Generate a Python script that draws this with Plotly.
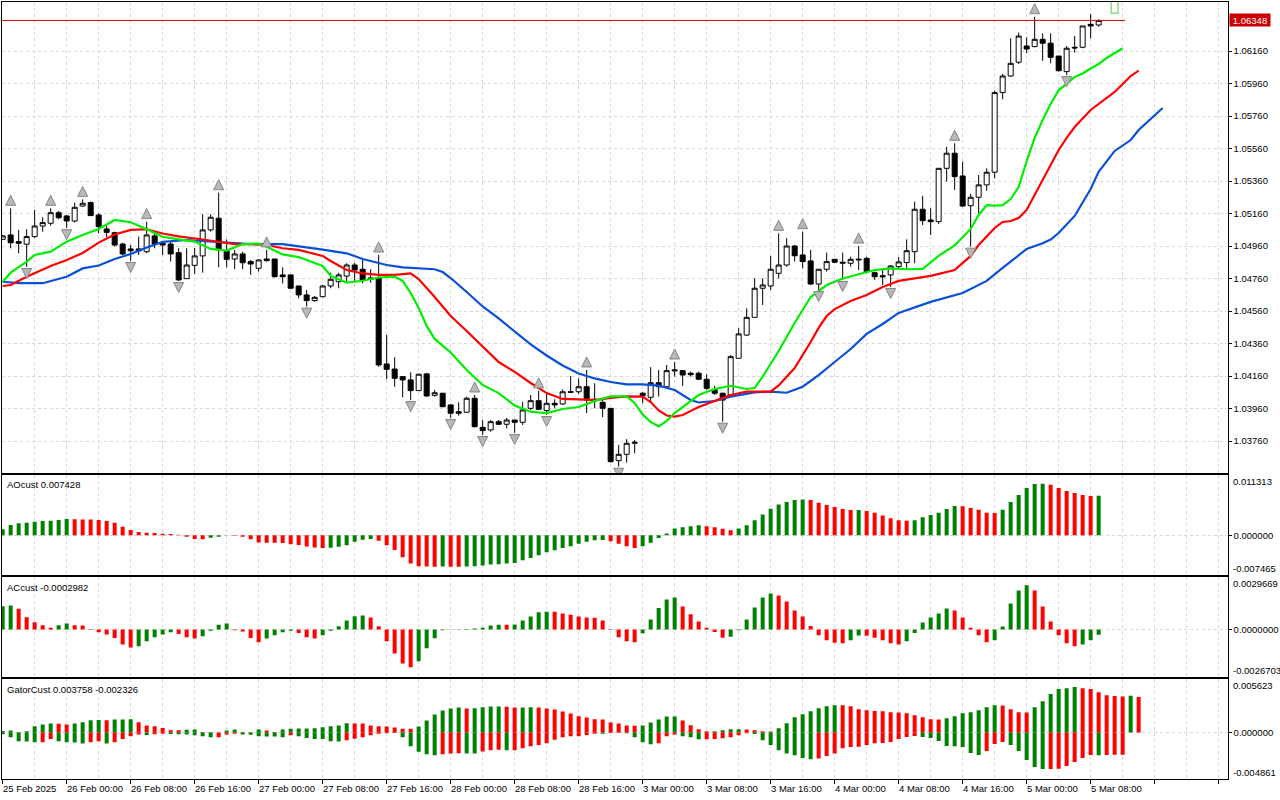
import plotly.graph_objects as go
from plotly.subplots import make_subplots

# ---------------- data (EURUSD H1) ----------------
time_tick_idx = [0, 8, 16, 24, 32, 40, 48, 56, 64, 72, 80, 88, 96, 104, 112, 120, 128, 136]
time_tick_text = ["25 Feb 2025", "26 Feb 00:00", "26 Feb 08:00", "26 Feb 16:00", "27 Feb 00:00",
                  "27 Feb 08:00", "27 Feb 16:00", "28 Feb 00:00", "28 Feb 08:00", "28 Feb 16:00",
                  "3 Mar 00:00", "3 Mar 08:00", "3 Mar 16:00", "4 Mar 00:00", "4 Mar 08:00",
                  "4 Mar 16:00", "5 Mar 00:00", "5 Mar 08:00"]

price_ticks = [1.03760, 1.03960, 1.04160, 1.04360, 1.04560, 1.04760, 1.04960,
               1.05160, 1.05360, 1.05560, 1.05760, 1.05960, 1.06160]

open_ = [1.05001, 1.05028, 1.04987, 1.04971, 1.05018, 1.05083, 1.05100, 1.05165, 1.05145, 1.05114,
         1.05206, 1.05227, 1.05151, 1.05065, 1.05042, 1.04972, 1.04942, 1.04942, 1.04925, 1.05022,
         1.04977, 1.04972, 1.04919, 1.04759, 1.04841, 1.04899, 1.05059, 1.05131, 1.04929, 1.04880,
         1.04911, 1.04864, 1.04823, 1.04880, 1.04880, 1.04782, 1.04782, 1.04714, 1.04659, 1.04624,
         1.04648, 1.04714, 1.04740, 1.04775, 1.04843, 1.04817, 1.04763, 1.04763, 1.04234, 1.04203,
         1.04156, 1.04136, 1.04070, 1.04173, 1.04041, 1.04054, 1.03982, 1.03940, 1.03937, 1.04023,
         1.03844, 1.03828, 1.03879, 1.03863, 1.03889, 1.03875, 1.03961, 1.04008, 1.03947, 1.03992,
         1.03988, 1.04063, 1.04063, 1.04094, 1.04017, 1.03998, 1.03961, 1.03639, 1.03678, 1.03746,
         1.04054, 1.04029, 1.04119, 1.04094, 1.04191, 1.04193, 1.04177, 1.04177, 1.04140, 1.04078,
         1.04054, 1.04043, 1.04269, 1.04412, 1.04521, 1.04700, 1.04714, 1.04792, 1.04843, 1.04960,
         1.04905, 1.04868, 1.04726, 1.04817, 1.04878, 1.04860, 1.04854, 1.04874, 1.04884, 1.04796,
         1.04777, 1.04782, 1.04833, 1.04858, 1.04925, 1.05186, 1.05120, 1.05110, 1.05438, 1.05531,
         1.05391, 1.05208, 1.05260, 1.05336, 1.05414, 1.05904, 1.06006, 1.06091, 1.06191, 1.06187,
         1.06232, 1.06208, 1.06129, 1.06033, 1.06183, 1.06183, 1.06324, 1.06320]

high = [1.05028, 1.05192, 1.05059, 1.05063, 1.05182, 1.05137, 1.05192, 1.05176, 1.05150, 1.05227,
        1.05247, 1.05233, 1.05161, 1.05083, 1.05048, 1.04980, 1.04966, 1.05018, 1.05110, 1.05038,
        1.04991, 1.04987, 1.04946, 1.04946, 1.04948, 1.05155, 1.05155, 1.05288, 1.05001, 1.04936,
        1.04925, 1.04874, 1.04878, 1.04936, 1.04880, 1.04829, 1.04782, 1.04714, 1.04689, 1.04652,
        1.04720, 1.04796, 1.04796, 1.04854, 1.04856, 1.04884, 1.04817, 1.04905, 1.04413, 1.04275,
        1.04160, 1.04183, 1.04173, 1.04179, 1.04074, 1.04055, 1.03986, 1.03998, 1.04033, 1.04043,
        1.03889, 1.03889, 1.03889, 1.03902, 1.03889, 1.04002, 1.04043, 1.04068, 1.04055, 1.04017,
        1.04078, 1.04160, 1.04146, 1.04197, 1.04115, 1.04023, 1.03963, 1.03736, 1.03771, 1.03766,
        1.04063, 1.04214, 1.04197, 1.04228, 1.04246, 1.04197, 1.04187, 1.04187, 1.04171, 1.04099,
        1.04057, 1.04289, 1.04454, 1.04577, 1.04761, 1.04761, 1.04899, 1.05038, 1.05008, 1.04966,
        1.05048, 1.04936, 1.04817, 1.04919, 1.04880, 1.04919, 1.04894, 1.04960, 1.04894, 1.04802,
        1.04817, 1.04843, 1.04892, 1.05001, 1.05233, 1.05268, 1.05192, 1.05438, 1.05571, 1.05592,
        1.05479, 1.05280, 1.05397, 1.05438, 1.05916, 1.06019, 1.06238, 1.06273, 1.06244, 1.06371,
        1.06269, 1.06269, 1.06129, 1.06191, 1.06252, 1.06314, 1.06388, 1.06355]

low = [1.04997, 1.04946, 1.04915, 1.04831, 1.05008, 1.05048, 1.05085, 1.05124, 1.05070, 1.05104,
       1.05202, 1.05145, 1.05038, 1.05014, 1.04956, 1.04905, 1.04868, 1.04905, 1.04915, 1.04946,
       1.04905, 1.04864, 1.04745, 1.04759, 1.04788, 1.04796, 1.05048, 1.04829, 1.04829, 1.04817,
       1.04817, 1.04782, 1.04802, 1.04864, 1.04767, 1.04730, 1.04694, 1.04638, 1.04587, 1.04617,
       1.04644, 1.04700, 1.04700, 1.04734, 1.04740, 1.04730, 1.04734, 1.04216, 1.04140, 1.04094,
       1.04029, 1.04012, 1.04068, 1.04033, 1.04033, 1.03968, 1.03902, 1.03916, 1.03934, 1.03844,
       1.03797, 1.03817, 1.03859, 1.03838, 1.03810, 1.03859, 1.03951, 1.03951, 1.03920, 1.03961,
       1.03982, 1.04054, 1.04049, 1.03931, 1.03961, 1.03906, 1.03627, 1.03602, 1.03627, 1.03684,
       1.03992, 1.04002, 1.04033, 1.04084, 1.04156, 1.04099, 1.04156, 1.04136, 1.04074, 1.04043,
       1.03879, 1.04040, 1.04269, 1.04406, 1.04521, 1.04597, 1.04689, 1.04761, 1.04833, 1.04864,
       1.04823, 1.04720, 1.04689, 1.04802, 1.04854, 1.04751, 1.04833, 1.04812, 1.04792, 1.04751,
       1.04720, 1.04708, 1.04823, 1.04817, 1.04854, 1.05089, 1.05028, 1.05095, 1.05356, 1.05305,
       1.05202, 1.04956, 1.05145, 1.05300, 1.05377, 1.05863, 1.06002, 1.06080, 1.06146, 1.06183,
       1.06100, 1.06084, 1.06033, 1.06012, 1.06150, 1.06177, 1.06238, 1.06310]

close = [1.05022, 1.04980, 1.04977, 1.05018, 1.05083, 1.05104, 1.05165, 1.05134, 1.05114, 1.05198,
         1.05223, 1.05147, 1.05079, 1.05044, 1.04966, 1.04911, 1.04931, 1.04930, 1.05028, 1.04972,
         1.04966, 1.04911, 1.04751, 1.04843, 1.04899, 1.05059, 1.05137, 1.04936, 1.04878, 1.04911,
         1.04857, 1.04849, 1.04874, 1.04870, 1.04771, 1.04771, 1.04700, 1.04659, 1.04624, 1.04644,
         1.04714, 1.04755, 1.04782, 1.04843, 1.04812, 1.04747, 1.04755, 1.04228, 1.04201, 1.04146,
         1.04136, 1.04070, 1.04171, 1.04037, 1.04057, 1.03971, 1.03931, 1.03931, 1.04023, 1.03848,
         1.03824, 1.03879, 1.03863, 1.03889, 1.03875, 1.03951, 1.04008, 1.03955, 1.03992, 1.03982,
         1.04063, 1.04060, 1.04094, 1.04012, 1.04008, 1.03961, 1.03633, 1.03678, 1.03746, 1.03752,
         1.04039, 1.04119, 1.04094, 1.04193, 1.04197, 1.04166, 1.04168, 1.04140, 1.04084, 1.04054,
         1.04012, 1.04279, 1.04419, 1.04521, 1.04700, 1.04720, 1.04817, 1.04843, 1.04960, 1.04900,
         1.04864, 1.04726, 1.04817, 1.04864, 1.04860, 1.04855, 1.04878, 1.04878, 1.04802, 1.04771,
         1.04771, 1.04837, 1.04862, 1.04931, 1.05186, 1.05116, 1.05110, 1.05438, 1.05531, 1.05387,
         1.05206, 1.05260, 1.05336, 1.05414, 1.05904, 1.06006, 1.06084, 1.06252, 1.06172, 1.06232,
         1.06208, 1.06121, 1.06039, 1.06177, 1.06179, 1.06314, 1.06314, 1.06348]

# Alligator lines (bar index, price)
jaw_idx = [0, 2, 5, 8, 10, 12, 14, 16, 18, 20, 23, 26, 29, 31, 35, 37, 40, 43, 45, 46, 48, 50, 54, 55,
           56, 58, 60, 62, 64, 66, 68, 70, 72, 74, 76, 78, 80, 82, 84, 86, 87, 89, 91, 94, 96, 98, 100,
           102, 104, 106, 108, 110, 112, 116, 120, 123, 125, 127, 128, 130, 131, 132, 134, 136, 137,
           139, 141, 142, 145]
jaw_val = [1.04740, 1.04731, 1.04731, 1.04771, 1.04822, 1.04840, 1.04880, 1.04911, 1.04951, 1.04985,
           1.04997, 1.04988, 1.04977, 1.04972, 1.04972, 1.04960, 1.04938, 1.04915, 1.04880, 1.04868,
           1.04843, 1.04829, 1.04817, 1.04800, 1.04763, 1.04677, 1.04588, 1.04514, 1.04431, 1.04354,
           1.04286, 1.04225, 1.04175, 1.04145, 1.04123, 1.04109, 1.04108, 1.04101, 1.04074, 1.04012,
           1.03997, 1.04006, 1.04033, 1.04059, 1.04064, 1.04057, 1.04094, 1.04166, 1.04246, 1.04326,
           1.04419, 1.04480, 1.04548, 1.04616, 1.04671, 1.04745, 1.04825, 1.04905, 1.04942, 1.04977,
           1.05000, 1.05040, 1.05145, 1.05311, 1.05416, 1.05545, 1.05612, 1.05674, 1.05809]

teeth_idx = [0, 1, 3, 6, 8, 10, 12, 14, 16, 18, 20, 22, 25, 27, 29, 31, 33, 35, 37, 40, 41, 43, 45,
             47, 49, 51, 52, 54, 56, 58, 60, 62, 64, 66, 68, 70, 73, 74, 76, 78, 80, 81, 82, 83, 84,
             85, 87, 89, 91, 93, 96, 97, 99, 101, 102, 103, 104, 106, 108, 110, 112, 116, 119, 121,
             122, 124, 125, 126, 127, 128, 130, 132, 133, 134, 136, 138, 139, 141, 142]
teeth_val = [1.04714, 1.04720, 1.04771, 1.04837, 1.04874, 1.04917, 1.04981, 1.05031, 1.05059, 1.05063,
             1.05037, 1.05019, 1.05000, 1.04987, 1.04972, 1.04972, 1.04966, 1.04946, 1.04936, 1.04899,
             1.04868, 1.04812, 1.04791, 1.04782, 1.04782, 1.04791, 1.04757, 1.04646, 1.04529, 1.04437,
             1.04339, 1.04246, 1.04185, 1.04117, 1.04055, 1.04019, 1.04015, 1.04012, 1.04025, 1.04035,
             1.04033, 1.04000, 1.03948, 1.03917, 1.03910, 1.03920, 1.03969, 1.04006, 1.04043, 1.04064,
             1.04064, 1.04102, 1.04209, 1.04369, 1.04456, 1.04529, 1.04572, 1.04622, 1.04659, 1.04708,
             1.04745, 1.04776, 1.04812, 1.04899, 1.04966, 1.05071, 1.05108, 1.05114, 1.05132, 1.05182,
             1.05366, 1.05551, 1.05625, 1.05692, 1.05797, 1.05871, 1.05908, 1.06006, 1.06039]

lips_idx = [0, 1, 3, 4, 6, 8, 10, 12, 14, 16, 18, 20, 22, 24, 26, 28, 30, 32, 33, 35, 37, 40, 41, 43,
            45, 47, 49, 50, 51, 52, 53, 54, 56, 58, 60, 62, 64, 66, 68, 70, 72, 74, 76, 78, 79, 80,
            81, 82, 83, 84, 85, 87, 89, 91, 93, 94, 95, 96, 97, 98, 99, 101, 103, 105, 107, 109, 111,
            113, 115, 117, 119, 121, 122, 123, 124, 125, 126, 127, 128, 129, 130, 131, 132, 133, 134,
            135, 136, 137, 138, 140]
lips_val = [1.04740, 1.04796, 1.04864, 1.04905, 1.04925, 1.04987, 1.05028, 1.05065, 1.05120, 1.05106,
            1.05063, 1.05017, 1.05001, 1.04987, 1.04942, 1.04932, 1.04972, 1.04975, 1.04956, 1.04908,
            1.04892, 1.04837, 1.04776, 1.04735, 1.04746, 1.04766, 1.04772, 1.04745, 1.04671, 1.04578,
            1.04468, 1.04388, 1.04305, 1.04197, 1.04105, 1.04055, 1.03978, 1.03940, 1.03932, 1.03957,
            1.03969, 1.04006, 1.04034, 1.04034, 1.03994, 1.03923, 1.03877, 1.03849, 1.03883, 1.03932,
            1.03969, 1.04043, 1.04080, 1.04100, 1.04080, 1.04086, 1.04156, 1.04234, 1.04314, 1.04400,
            1.04486, 1.04646, 1.04720, 1.04760, 1.04785, 1.04812, 1.04822, 1.04817, 1.04819, 1.04899,
            1.04963, 1.05065, 1.05151, 1.05212, 1.05209, 1.05212, 1.05249, 1.05323, 1.05483, 1.05625,
            1.05736, 1.05834, 1.05920, 1.05957, 1.06000, 1.06022, 1.06052, 1.06080, 1.06117, 1.06177]

fractal_up_idx = [1, 6, 10, 18, 27, 33, 47, 59, 67, 73, 84, 97, 100, 107, 119, 129]
fractal_down_idx = [3, 8, 16, 22, 38, 51, 56, 60, 64, 68, 77, 90, 102, 105, 111, 121, 133]

ao_values = [0.00111, 0.00193, 0.00224, 0.00237, 0.00256, 0.00269, 0.00275, 0.00288, 0.00307, 0.00300,
             0.00297, 0.00294, 0.00288, 0.00269, 0.00237, 0.00161, 0.00098, 0.00060, 0.00047, 0.00041,
             0.00028, 0.00022, 0.00009, -0.00028, -0.00073, -0.00076, -0.00047, -0.00028, -0.00005, -0.00012,
             -0.00028, -0.00079, -0.00138, -0.00141, -0.00143, -0.00146, -0.00172, -0.00186, -0.00216, -0.00235,
             -0.00240, -0.00236, -0.00218, -0.00190, -0.00126, -0.00085, -0.00072, -0.00105, -0.00188, -0.00278,
             -0.00417, -0.00537, -0.00588, -0.00592, -0.00596, -0.00590, -0.00594, -0.00598, -0.00590, -0.00585,
             -0.00575, -0.00556, -0.00550, -0.00537, -0.00525, -0.00474, -0.00430, -0.00379, -0.00322, -0.00284,
             -0.00240, -0.00209, -0.00164, -0.00126, -0.00095, -0.00093, -0.00114, -0.00164, -0.00209, -0.00240,
             -0.00209, -0.00145, -0.00051, 0.00032, 0.00126, 0.00152, 0.00171, 0.00190, 0.00171, 0.00152,
             0.00120, 0.00095, 0.00126, 0.00190, 0.00284, 0.00392, 0.00499, 0.00581, 0.00626, 0.00664,
             0.00676, 0.00664, 0.00613, 0.00569, 0.00531, 0.00493, 0.00474, 0.00476, 0.00455, 0.00423,
             0.00373, 0.00322, 0.00284, 0.00272, 0.00284, 0.00341, 0.00379, 0.00423, 0.00493, 0.00550,
             0.00548, 0.00512, 0.00480, 0.00423, 0.00420, 0.00480, 0.00626, 0.00759, 0.00891, 0.00967,
             0.00970, 0.00951, 0.00891, 0.00834, 0.00796, 0.00760, 0.00738, 0.007428]

ac_values = [0.00133, 0.00137, 0.00118, 0.00070, 0.00042, 0.00025, 0.00011, 0.00025, 0.00034, 0.00025,
             0.00023, 0.00004, -0.00015, -0.00028, -0.00047, -0.00085, -0.00101, -0.00095, -0.00066, -0.00044,
             -0.00028, -0.00015, -0.00025, -0.00044, -0.00051, -0.00038, -0.00006, 0.00028, 0.00034, -0.00004,
             -0.00010, -0.00047, -0.00072, -0.00051, -0.00032, -0.00015, -0.00006, -0.00019, -0.00044, -0.00051,
             -0.00032, -0.00006, 0.00019, 0.00051, 0.00076, 0.00080, 0.00068, 0.00019, -0.00066, -0.00135,
             -0.00192, -0.00214, -0.00180, -0.00106, -0.00049, -0.00004, 0.00002, -0.00001, 0.00003, 0.00006,
             0.00011, 0.00023, 0.00028, 0.00027, 0.00029, 0.00051, 0.00074, 0.00099, 0.00102, 0.00101,
             0.00091, 0.00085, 0.00074, 0.00068, 0.00067, 0.00051, 0.00004, -0.00044, -0.00066, -0.00072,
             -0.00021, 0.00057, 0.00123, 0.00171, 0.00182, 0.00131, 0.00087, 0.00046, 0.00011, -0.00013,
             -0.00046, -0.00040, -0.00004, 0.00057, 0.00125, 0.00182, 0.00205, 0.00194, 0.00159, 0.00108,
             0.00074, 0.00021, -0.00032, -0.00061, -0.00074, -0.00078, -0.00061, -0.00034, -0.00035, -0.00046,
             -0.00061, -0.00078, -0.00084, -0.00066, -0.00019, 0.00040, 0.00068, 0.00091, 0.00120, 0.00108,
             0.00068, 0.00011, -0.00032, -0.00072, -0.00061, 0.00017, 0.00148, 0.00222, 0.00251, 0.00222,
             0.00131, 0.00046, -0.00032, -0.00078, -0.00095, -0.00084, -0.00061, -0.0002982]

gator_upper = [0.00018, 0.00022, 0.00004, 0.00014, 0.00067, 0.00085, 0.00095, 0.00094, 0.00085, 0.00095,
               0.00109, 0.00131, 0.00132, 0.00130, 0.00138, 0.00139, 0.00140, 0.00109, 0.00074, 0.00067,
               0.00049, 0.00025, 0.00024, 0.00030, 0.00032, 0.00007, 0.00004, 0.00002, 0.00021, 0.00032,
               0.00007, 0.00004, 0.00032, 0.00021, 0.00007, 0.00032, 0.00042, 0.00043, 0.00044, 0.00045,
               0.00056, 0.00067, 0.00074, 0.00099, 0.00097, 0.00095, 0.00074, 0.00067, 0.00064, 0.00053,
               0.00042, 0.00041, 0.00064, 0.00127, 0.00191, 0.00233, 0.00254, 0.00265, 0.00254, 0.00256,
               0.00268, 0.00275, 0.00276, 0.00274, 0.00265, 0.00266, 0.00267, 0.00264, 0.00254, 0.00244,
               0.00222, 0.00201, 0.00173, 0.00159, 0.00141, 0.00138, 0.00106, 0.00095, 0.00074, 0.00073,
               0.00075, 0.00106, 0.00138, 0.00169, 0.00170, 0.00127, 0.00078, 0.00035, 0.00014, 0.00015,
               0.00025, 0.00035, 0.00036, 0.00034, 0.00025, 0.00014, 0.00012, 0.00046, 0.00099, 0.00162,
               0.00194, 0.00226, 0.00258, 0.00279, 0.00289, 0.00288, 0.00279, 0.00247, 0.00237, 0.00229,
               0.00226, 0.00215, 0.00213, 0.00205, 0.00184, 0.00162, 0.00141, 0.00139, 0.00152, 0.00173,
               0.00205, 0.00215, 0.00237, 0.00268, 0.00289, 0.00287, 0.00247, 0.00215, 0.00213, 0.00268,
               0.00332, 0.00406, 0.00459, 0.00469, 0.00480, 0.00469, 0.00459, 0.00427, 0.00395, 0.00385,
               0.00380, 0.00390, 0.003758]

gator_lower = [-0.00018, -0.00049, -0.00092, -0.00093, -0.00102, -0.00101, -0.00067, -0.00092, -0.00102, -0.00103,
               -0.00116, -0.00102, -0.00092, -0.00116, -0.00102, -0.00067, -0.00039, -0.00021, -0.00025, -0.00018,
               -0.00012, -0.00015, -0.00018, -0.00021, -0.00028, -0.00039, -0.00049, -0.00048, -0.00021, -0.00011,
               -0.00021, -0.00022, -0.00039, -0.00040, -0.00041, -0.00049, -0.00028, -0.00039, -0.00056, -0.00067,
               -0.00068, -0.00092, -0.00093, -0.00081, -0.00064, -0.00049, -0.00028, -0.00011, -0.00006, -0.00004,
               -0.00049, -0.00145, -0.00201, -0.00229, -0.00240, -0.00229, -0.00219, -0.00217, -0.00219, -0.00221,
               -0.00198, -0.00187, -0.00180, -0.00187, -0.00186, -0.00166, -0.00145, -0.00131, -0.00113, -0.00074,
               -0.00049, -0.00039, -0.00038, -0.00025, -0.00011, -0.00012, -0.00004, -0.00002, -0.00007, -0.00049,
               -0.00102, -0.00124, -0.00113, -0.00039, -0.00021, -0.00039, -0.00049, -0.00071, -0.00069, -0.00068,
               -0.00060, -0.00049, -0.00028, -0.00007, -0.00014, -0.00081, -0.00131, -0.00187, -0.00219, -0.00240,
               -0.00268, -0.00282, -0.00272, -0.00247, -0.00219, -0.00166, -0.00152, -0.00150, -0.00131, -0.00113,
               -0.00110, -0.00099, -0.00067, -0.00046, -0.00035, -0.00046, -0.00056, -0.00088, -0.00141, -0.00143,
               -0.00152, -0.00215, -0.00237, -0.00194, -0.00120, -0.00099, -0.00131, -0.00194, -0.00289, -0.00364,
               -0.00385, -0.00383, -0.00381, -0.00353, -0.00311, -0.00268, -0.00237, -0.00240, -0.00236, -0.00234,
               -0.002326]

ao_range = [-0.007465, 0.011313]
ac_range = [-0.0026703, 0.0029669]
gator_range = [-0.004861, 0.005623]
price_range = [1.035612, 1.064634]
bid_price = close[-1]
pending_box_idx = [139]
pending_box_low = [1.06392]
pending_box_high = [1.06500]

# ---------------- style ----------------
FONT = "Liberation Sans, Arial, sans-serif"
FS = 9.5
GRID = "#d8d8d8"
DASH = "3px,3px"
GREEN_H = "#008000"
RED_H = "#ff0000"
X_RANGE = [-0.084, 153.13]
X_DOM = [2 / 1280, 1227.7 / 1280]
DOMS = [[1 - 473.3 / 800, 1 - 1.7 / 800],
        [1 - 574.7 / 800, 1 - 475.3 / 800],
        [1 - 676.7 / 800, 1 - 577.3 / 800],
        [1 - 778.7 / 800, 1 - 679.3 / 800]]


def rising_colors(vals, grow_down=False):
    out = []
    for i, v in enumerate(vals):
        if i == 0:
            out.append(GREEN_H)
            continue
        up = v < vals[i - 1] if grow_down else v > vals[i - 1]
        out.append(GREEN_H if up else RED_H)
    return out


fig = make_subplots(rows=4, cols=1, shared_xaxes=True)

bar_idx = list(range(len(close)))

fig.add_trace(go.Candlestick(
    x=bar_idx, open=open_, high=high, low=low, close=close,
    increasing=dict(line=dict(color="black", width=1), fillcolor="white"),
    decreasing=dict(line=dict(color="black", width=1), fillcolor="black"),
    whiskerwidth=0, hoverinfo="skip", showlegend=False), row=1, col=1)

# alligator
fig.add_trace(go.Scatter(x=jaw_idx, y=jaw_val, mode="lines",
                         line=dict(color="#0a4fd8", width=2.2), hoverinfo="skip"), row=1, col=1)
fig.add_trace(go.Scatter(x=teeth_idx, y=teeth_val, mode="lines",
                         line=dict(color="#ff0000", width=2.2), hoverinfo="skip"), row=1, col=1)
fig.add_trace(go.Scatter(x=lips_idx, y=lips_val, mode="lines",
                         line=dict(color="#00ee00", width=2.2), hoverinfo="skip"), row=1, col=1)

# bid line
fig.add_trace(go.Scatter(x=[X_RANGE[0], 140.3], y=[bid_price, bid_price], mode="lines",
                         line=dict(color="#e00000", width=1), hoverinfo="skip"), row=1, col=1)

# fractals
UP_GAP = 0.00080
DN_GAP = 0.00071
fig.add_trace(go.Scatter(
    x=fractal_up_idx, y=[high[i] + UP_GAP for i in fractal_up_idx], mode="markers",
    marker=dict(symbol="arrow-up", size=10, color="#b8b8b8", line=dict(color="#858585", width=1)),
    hoverinfo="skip"), row=1, col=1)
fig.add_trace(go.Scatter(
    x=fractal_down_idx, y=[low[i] - DN_GAP for i in fractal_down_idx], mode="markers",
    marker=dict(symbol="arrow-down", size=10, color="#b8b8b8", line=dict(color="#858585", width=1)),
    hoverinfo="skip"), row=1, col=1)

# pending (forming) bar outline
fig.add_trace(go.Bar(x=pending_box_idx,
                     y=[h - l for h, l in zip(pending_box_high, pending_box_low)],
                     base=pending_box_low, width=0.85,
                     marker=dict(color="white", line=dict(color="#86e08a", width=1.5)),
                     hoverinfo="skip"), row=1, col=1)

# AO
fig.add_trace(go.Bar(x=list(range(len(ao_values))), y=ao_values, width=0.5,
                     marker=dict(color=rising_colors(ao_values), line=dict(width=0)),
                     hoverinfo="skip"), row=2, col=1)
# AC
fig.add_trace(go.Bar(x=list(range(len(ac_values))), y=ac_values, width=0.5,
                     marker=dict(color=rising_colors(ac_values), line=dict(width=0)),
                     hoverinfo="skip"), row=3, col=1)
# Gator
fig.add_trace(go.Bar(x=list(range(len(gator_upper))), y=gator_upper, width=0.5,
                     marker=dict(color=rising_colors(gator_upper), line=dict(width=0)),
                     hoverinfo="skip"), row=4, col=1)
fig.add_trace(go.Bar(x=list(range(len(gator_lower))), y=gator_lower, width=0.5,
                     marker=dict(color=rising_colors(gator_lower, grow_down=True), line=dict(width=0)),
                     hoverinfo="skip"), row=4, col=1)

# ---------------- axes ----------------
major = list(range(0, 153, 8))
minor = list(range(4, 153, 8))
for k in range(1, 5):
    name = "xaxis" if k == 1 else f"xaxis{k}"
    fig.layout[name].update(
        domain=X_DOM, range=X_RANGE, showline=True, linecolor="black", linewidth=1, mirror=True,
        tickmode="array", tickvals=major, showticklabels=False,
        showgrid=True, gridcolor=GRID, griddash=DASH, gridwidth=1, zeroline=False,
        ticks="outside" if k == 4 else "", ticklen=4, tickcolor="black",
        minor=dict(tickmode="array", tickvals=minor, showgrid=True, gridcolor=GRID,
                   griddash=DASH, ticks=""),
        rangeslider=dict(visible=False), fixedrange=True)

tick_font = dict(family=FONT, size=FS, color="black")
fig.layout.yaxis.update(domain=DOMS[0], range=price_range, side="right", showline=True,
                        linecolor="black", linewidth=1, mirror=True, tickmode="array",
                        tickvals=price_ticks, ticktext=[f"{v:.5f}" for v in price_ticks],
                        ticks="outside", ticklen=3, tickcolor="black", tickfont=tick_font,
                        showgrid=True, gridcolor=GRID, griddash=DASH, zeroline=False, fixedrange=True)
for k, rng, ztxt in [(2, ao_range, "0.000000"), (3, ac_range, "0.0000000"), (4, gator_range, "0.000000")]:
    fig.layout[f"yaxis{k}"].update(domain=DOMS[k - 1], range=rng, side="right", showline=True,
                                   linecolor="black", linewidth=1, mirror=True, tickmode="array",
                                   tickvals=[0], ticktext=[ztxt], ticks="outside", ticklen=3,
                                   tickcolor="black", tickfont=tick_font, showgrid=True,
                                   gridcolor=GRID, griddash=DASH, zeroline=False, fixedrange=True)

# ---------------- annotations ----------------
ann = []
lab_font = dict(family=FONT, size=FS, color="black")
for name, txt, ypx in [("ao", "AOcust 0.007428", 484.5), ("ac", "ACcust -0.0002982", 587),
                       ("gator", "GatorCust 0.003758 -0.002326", 689)]:
    ann.append(dict(x=5 / 1280, y=1 - ypx / 800, xref="paper", yref="paper", text=txt,
                    showarrow=False, xanchor="left", yanchor="middle", font=lab_font))

for yref, rng, fmt in [("y2", ao_range, "{:.6f}"), ("y3", ac_range, "{:.7f}"), ("y4", gator_range, "{:.6f}")]:
    ann.append(dict(x=1230.5 / 1280, y=rng[1], xref="paper", yref=yref, text=fmt.format(rng[1]),
                    showarrow=False, xanchor="left", yanchor="top", font=lab_font, yshift=1))
    ann.append(dict(x=1230.5 / 1280, y=rng[0], xref="paper", yref=yref, text=fmt.format(rng[0]),
                    showarrow=False, xanchor="left", yanchor="bottom", font=lab_font, yshift=-1))

ann.append(dict(x=1229 / 1280, y=bid_price, xref="paper", yref="y", text=f"{bid_price:.5f}",
                showarrow=False, xanchor="left", yanchor="middle", bgcolor="#cc0000",
                font=dict(family=FONT, size=FS, color="white"), borderpad=0, width=40,
                height=12, align="center"))

for i, t in zip(time_tick_idx, time_tick_text):
    ann.append(dict(x=i, y=1 - 788.5 / 800, xref="x4", yref="paper", text=t, showarrow=False,
                    xanchor="left", yanchor="middle", xshift=-1.5, font=lab_font))

fig.update_layout(
    width=1280, height=800, margin=dict(l=0, r=0, t=0, b=0),
    paper_bgcolor="white", plot_bgcolor="white", showlegend=False, hovermode=False,
    barmode="overlay", boxgap=0.375, boxgroupgap=0, annotations=ann,
    font=dict(family=FONT, size=FS, color="black"))

fig.write_html("out.html", config={"displayModeBar": False, "staticPlot": True},
               post_script="document.body.style.margin='0';")
